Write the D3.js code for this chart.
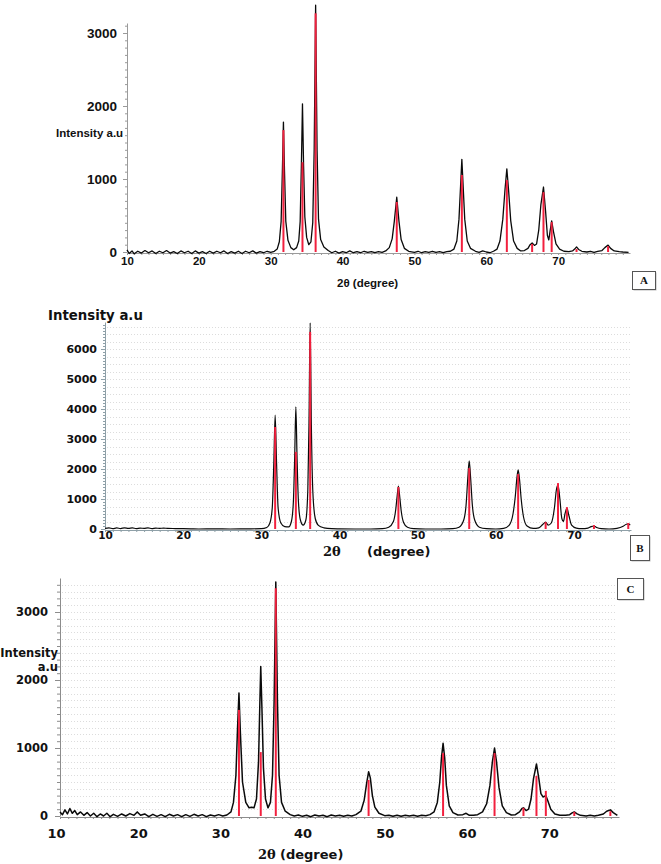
<!DOCTYPE html>
<html>
<head>
<meta charset="utf-8">
<script src="https://cdn.jsdelivr.net/npm/d3@7/dist/d3.min.js"></script>
<style>
  html, body { margin: 0; padding: 0; background: #ffffff; }
  svg { display: block; }
</style>
</head>
<body>
<svg id="chart" width="661" height="864"></svg>
<script>
// ---------------- DATA ----------------
// Reference (red stick) positions, 2θ in degrees
const twoTheta = [31.77, 34.42, 36.25, 47.54, 56.6, 62.86, 66.38, 67.96, 69.1, 72.56, 76.95];
// Reference stick intensities for each pattern
const refA = [1670, 1230, 3270, 685, 1055, 985, 110, 820, 410, 40, 80];
const refB = [3400, 2570, 6570, 1400, 2030, 1830, 230, 1530, 730, 130, 200];
const refC = [1560, 940, 3350, 530, 925, 925, 120, 590, 370, 60, 70];

const profileA = [
  [10,30],[10.3,-20],[10.7,15],[11,-25],[11.5,10],[12,-15],[12.5,20],[13,-10],[13.5,15],[14,-20],[14.5,10],
  [15,-10],[15.5,20],[16,-15],[16.5,5],[17,-20],[17.5,15],[18,-10],[18.5,10],[19,-20],[19.5,15],[20,-15],
  [20.5,5],[21,-20],[21.5,10],[22,-15],[22.5,10],[23,-10],[23.5,15],[24,-20],[24.5,5],[25,-15],[25.5,10],
  [26,-20],[26.5,10],[27,-10],[27.5,15],[28,-15],[28.5,5],[29,-10],[29.5,10],[30,-5],[30.5,10],
  [30.9,40],[31.2,140],[31.45,420],[31.62,1100],[31.77,1780],[31.92,1100],[32.1,420],[32.4,160],[32.8,60],
  [33.2,30],[33.6,60],[33.9,150],[34.1,420],[34.27,1200],[34.42,2030],[34.57,1200],[34.75,480],[35.0,200],
  [35.3,100],[35.6,140],[35.85,400],[36.05,1400],[36.25,3380],[36.45,1400],[36.65,450],[36.95,170],
  [37.4,70],[38,20],[38.5,-10],[39,10],[39.5,-15],[40,5],[40.5,-10],[41,15],[41.5,-10],[42,5],[42.5,-10],
  [43,10],[43.5,-5],[44,5],[44.5,-10],[45,5],[45.5,-5],[46,15],[46.5,60],[46.9,180],[47.2,420],[47.54,750],
  [47.85,420],[48.15,170],[48.6,50],[49.2,10],[50,-5],[50.5,10],[51,-10],[51.5,5],[52,-5],[52.5,10],[53,-5],
  [53.5,5],[54,-10],[54.5,5],[55,10],[55.5,40],[55.9,150],[56.2,450],[56.42,900],[56.6,1270],[56.78,900],
  [57.0,450],[57.35,150],[57.8,50],[58.5,10],[59,-5],[59.5,15],[60,0],[60.5,-10],[61,10],[61.5,40],
  [61.9,150],[62.3,450],[62.6,850],[62.86,1140],[63.1,850],[63.4,430],[63.8,150],[64.3,50],[64.8,15],
  [65.3,20],[65.8,50],[66.1,100],[66.38,125],[66.7,90],[67.0,110],[67.3,300],[67.6,650],[67.96,890],
  [68.25,560],[68.5,230],[68.7,165],[68.9,300],[69.1,425],[69.35,280],[69.7,110],[70.2,40],[70.8,10],
  [71.5,5],[72.0,15],[72.3,40],[72.56,70],[72.85,35],[73.3,10],[74,0],[74.5,10],[75,-5],[75.5,10],
  [76.1,20],[76.5,60],[76.95,95],[77.3,50],[77.8,15],[78.5,5],[79,0],[79.8,-5]
];
const profileB = [
  [10,20],[10.5,40],[11,10],[11.5,35],[12,15],[12.5,40],[13,20],[13.5,35],[14,15],[14.5,30],[15,20],
  [15.5,35],[16,15],[16.5,30],[17,20],[17.5,30],[18,20],[19,15],[20,10],[21,5],[22,0],[24,5],[26,0],
  [28,5],[30,10],[30.7,50],[31.1,200],[31.4,700],[31.6,2200],[31.77,3800],[31.95,2200],[32.15,700],
  [32.5,200],[33,80],[33.5,70],[33.85,250],[34.1,900],[34.27,2400],[34.42,4070],[34.57,2400],[34.75,900],
  [35.0,300],[35.35,130],[35.7,300],[35.95,1300],[36.1,3500],[36.25,6870],[36.4,3500],[36.6,1200],
  [36.9,350],[37.3,120],[38,40],[39,10],[40,5],[42,0],[44,0],[45.5,10],[46.3,60],[46.9,250],[47.2,650],
  [47.38,1100],[47.54,1430],[47.7,1100],[47.9,600],[48.2,220],[48.7,60],[49.5,10],[51,0],[53,0],
  [54.5,10],[55.3,60],[55.9,300],[56.2,800],[56.42,1700],[56.6,2270],[56.78,1700],[57.0,800],[57.3,300],
  [57.9,60],[58.8,10],[60,0],[61,20],[61.7,120],[62.2,500],[62.5,1100],[62.7,1700],[62.86,1970],
  [63.02,1700],[63.25,1000],[63.55,400],[64,100],[64.8,20],[65.5,40],[66.0,150],[66.38,230],[66.7,130],
  [67.1,200],[67.5,700],[67.75,1300],[67.96,1470],[68.2,1000],[68.45,350],[68.65,250],[68.85,500],
  [69.1,700],[69.35,450],[69.7,130],[70.3,30],[71,10],[71.8,30],[72.2,80],[72.56,100],[72.9,50],
  [73.5,10],[74.5,0],[75.5,20],[76.3,90],[76.7,160],[76.95,170],[77.2,130]
];
const profileC = [
  [10,60],[10.3,20],[10.6,90],[10.9,30],[11.2,110],[11.5,40],[11.8,80],[12.1,20],[12.5,60],[12.9,10],
  [13.3,50],[13.7,0],[14.1,40],[14.5,-10],[14.9,30],[15.3,0],[15.7,40],[16.1,-10],[16.5,25],[17,-5],
  [17.5,30],[18,0],[18.5,35],[19,10],[19.4,60],[19.8,10],[20.3,30],[20.8,-10],[21.3,25],[21.8,-5],
  [22.3,20],[22.8,-10],[23.3,25],[23.8,0],[24.3,20],[24.8,-10],[25.3,20],[25.8,-5],[26.3,25],[26.8,0],
  [27.3,20],[27.8,-10],[28.3,15],[28.8,0],[29.3,20],[29.8,0],[30.3,15],[30.8,60],[31.1,200],[31.4,600],
  [31.6,1300],[31.77,1810],[31.95,1200],[32.2,500],[32.6,200],[33.0,120],[33.3,130],[33.6,120],
  [33.9,250],[34.15,800],[34.3,1600],[34.42,2200],[34.56,1600],[34.75,700],[35.0,250],[35.3,120],
  [35.6,200],[35.85,600],[36.05,1700],[36.25,3440],[36.45,1700],[36.65,600],[36.95,200],[37.4,70],
  [38,20],[38.5,0],[39,15],[39.5,-5],[40,10],[40.5,-10],[41,15],[41.5,0],[42,10],[42.5,-10],[43,15],
  [43.5,0],[44,10],[44.5,-5],[45,10],[45.5,0],[46,20],[46.6,70],[47.0,230],[47.3,480],[47.54,650],
  [47.75,560],[48.0,300],[48.3,130],[48.8,40],[49.5,5],[50,10],[50.5,-5],[51,10],[51.5,-5],[52,10],
  [52.5,0],[53,10],[53.5,-5],[54,10],[54.5,5],[55,20],[55.5,60],[55.9,200],[56.2,500],[56.4,850],
  [56.6,1070],[56.8,850],[57.0,450],[57.35,150],[57.8,50],[58.4,15],[59,20],[59.4,40],[59.8,10],
  [60.3,10],[60.8,20],[61.4,60],[61.9,180],[62.3,450],[62.6,800],[62.86,1000],[63.1,800],[63.4,420],
  [63.8,150],[64.3,50],[64.9,15],[65.4,20],[65.9,60],[66.2,110],[66.38,120],[66.7,80],[67.0,100],
  [67.3,250],[67.6,550],[67.96,765],[68.25,550],[68.5,330],[68.75,280],[68.95,290],[69.1,300],
  [69.35,220],[69.7,100],[70.2,30],[70.8,10],[71.5,10],[72.0,20],[72.3,45],[72.56,60],[72.85,35],
  [73.3,10],[74,0],[74.5,10],[75,0],[75.5,10],[76.1,30],[76.5,70],[76.95,90],[77.3,50],[77.8,10]
];

const xTickLabels = [10, 20, 30, 40, 50, 60, 70];
const yTicksA = [0, 1000, 2000, 3000];
const yTicksB = [0, 1000, 2000, 3000, 4000, 5000, 6000];
const yTicksC = [0, 1000, 2000, 3000];
const panelNames = ["A", "B", "C"];

// ---------------- DRAWING ----------------
const svg = d3.select("#chart");
const SANS = "'Liberation Sans', Arial, sans-serif";
const WIDE = "'DejaVu Sans', Verdana, sans-serif";
const SERIF = "'DejaVu Serif', 'Liberation Serif', serif";

function drawPanel(cfg) {
  const g = svg.append("g");
  const x = d3.scaleLinear().domain(cfg.xDomain).range(cfg.xRange);
  const y = d3.scaleLinear().domain(cfg.yDomain).range(cfg.yRange);
  const yTop = y.invert(cfg.axisTop);
  const yAx = d3.scaleLinear().domain([0, yTop]).range([y(0), cfg.axisTop]);

  // faint dotted horizontal grid
  if (cfg.gridStep) {
    g.append("g").selectAll("line")
      .data(d3.range(cfg.gridStep, yTop, cfg.gridStep))
      .join("line")
      .attr("x1", x(cfg.xDomain[0]) + 2).attr("x2", cfg.gridRight)
      .attr("y1", d => Math.round(y(d)) + 0.5).attr("y2", d => Math.round(y(d)) + 0.5)
      .attr("stroke", "#dcdcdc").attr("stroke-width", 1)
      .attr("stroke-dasharray", "1,2");
  }

  // y axis: line + minor ticks
  const yMinor = g.append("g")
    .attr("transform", `translate(${x(cfg.xDomain[0])},0)`)
    .call(d3.axisLeft(yAx).tickValues(d3.range(0, yTop, 100)).tickSize(cfg.minorTick).tickFormat("").tickSizeOuter(0));
  yMinor.selectAll("path,line").attr("stroke", cfg.axisColor);
  const yMajor = g.append("g")
    .attr("transform", `translate(${x(cfg.xDomain[0])},0)`)
    .call(d3.axisLeft(y).tickValues(cfg.yTicks).tickFormat(d3.format("d"))
      .tickSize(cfg.majorTick).tickPadding(cfg.yPad).tickSizeOuter(0));
  yMajor.select(".domain").remove();
  yMajor.selectAll("line").attr("stroke", cfg.axisColor);
  yMajor.selectAll("text")
    .attr("font-family", cfg.yFont).attr("font-size", cfg.yFontSize)
    .attr("font-weight", "bold").attr("fill", "#111");

  // x axis: line + minor ticks
  const xBase = Math.round(y(0)) + 1;
  const xMinor = g.append("g")
    .attr("transform", `translate(0,${xBase})`)
    .call(d3.axisBottom(x).tickValues(d3.range(10, cfg.xDomain[1], 1)).tickSize(2).tickFormat("").tickSizeOuter(0));
  xMinor.selectAll("path,line").attr("stroke", cfg.axisColor);
  const xMajor = g.append("g")
    .attr("transform", `translate(0,${xBase})`)
    .call(d3.axisBottom(x).tickValues(xTickLabels).tickFormat(d3.format("d")).tickSize(0).tickPadding(cfg.xPad));
  xMajor.select(".domain").remove();
  xMajor.selectAll("text")
    .attr("dx", cfg.xLabelDx)
    .attr("font-family", cfg.xFont).attr("font-size", cfg.xFontSize)
    .attr("font-weight", "bold").attr("fill", "#111");

  // measured profile
  const line = d3.line()
    .x(d => x(d[0]))
    .y(d => y(d[1]))
    .curve(cfg.curve);
  g.append("path")
    .datum(cfg.profile)
    .attr("d", line)
    .attr("fill", "none")
    .attr("stroke", "#0a0a0a")
    .attr("stroke-width", cfg.lineWidth)
    .attr("stroke-linejoin", "round");

  // reference sticks
  g.append("g").selectAll("line")
    .data(twoTheta.map((t, i) => [t, cfg.ref[i]]))
    .join("line")
    .attr("x1", d => x(d[0])).attr("x2", d => x(d[0]))
    .attr("y1", y(0)).attr("y2", d => y(d[1]))
    .attr("stroke", "#f2203e").attr("stroke-width", 2);

  // y label
  cfg.yLabel.forEach(t => {
    g.append("text")
      .attr("x", t.x).attr("y", t.y)
      .attr("text-anchor", t.anchor || "start")
      .attr("font-family", t.font).attr("font-size", t.size)
      .attr("font-weight", "bold").attr("fill", "#111")
      .text(t.text);
  });
  // x label
  cfg.xLabel.forEach(t => {
    g.append("text")
      .attr("x", t.x).attr("y", t.y)
      .attr("font-family", t.font).attr("font-size", t.size)
      .attr("font-weight", "bold").attr("fill", "#111")
      .text(t.text);
  });

  // panel letter box
  const b = cfg.box;
  g.append("rect")
    .attr("x", b.x + 1.5).attr("y", b.y + 1.5).attr("width", b.w).attr("height", b.h)
    .attr("fill", "#bbb");
  g.append("rect")
    .attr("x", b.x + 0.5).attr("y", b.y + 0.5).attr("width", b.w).attr("height", b.h)
    .attr("fill", "#fff").attr("stroke", "#555").attr("stroke-width", 1);
  g.append("text")
    .attr("x", b.x + b.w / 2 + 0.5).attr("y", b.y + b.h / 2 + 4)
    .attr("text-anchor", "middle")
    .attr("font-family", "'Liberation Serif', 'DejaVu Serif', serif")
    .attr("font-size", 11).attr("font-weight", "bold").attr("fill", "#111")
    .text(cfg.name);
}

drawPanel({
  name: panelNames[0],
  profile: profileA, ref: refA, yTicks: yTicksA, curve: d3.curveLinear,
  xDomain: [10, 80], xRange: [127, 630],
  yDomain: [0, 3000], yRange: [252, 33], axisTop: 23,
  gridStep: null,
  axisColor: "#9a9a9a", minorTick: 2, majorTick: 4,
  yPad: 6, yFont: SANS, yFontSize: 13.5,
  xPad: 4, xFont: SANS, xFontSize: 11.5, xLabelDx: 0,
  lineWidth: 1.3,
  yLabel: [{ x: 56, y: 137, text: "Intensity a.u", font: SANS, size: 11.5 }],
  xLabel: [{ x: 337, y: 287, text: "2θ  (degree)", font: SANS, size: 11.5 }],
  box: { x: 632, y: 271, w: 23, h: 18 }
});

drawPanel({
  name: panelNames[1],
  profile: profileB, ref: refB, yTicks: yTicksB, curve: d3.curveMonotoneX,
  xDomain: [10, 77.3], xRange: [105, 631],
  yDomain: [0, 6000], yRange: [529, 349], axisTop: 322,
  gridStep: 250, gridRight: 631,
  axisColor: "#8fa0a8", minorTick: 2, majorTick: 4,
  yPad: 4, yFont: WIDE, yFontSize: 11,
  xPad: 2, xFont: WIDE, xFontSize: 10.5, xLabelDx: 0,
  lineWidth: 1.2,
  yLabel: [{ x: 48, y: 320, text: "Intensity a.u", font: WIDE, size: 13.3 }],
  xLabel: [
    { x: 323, y: 556, text: "2θ", font: SERIF, size: 13 },
    { x: 367, y: 556, text: "(degree)", font: WIDE, size: 13 }
  ],
  box: { x: 630, y: 535, w: 19, h: 25 }
});

drawPanel({
  name: panelNames[2],
  profile: profileC, ref: refC, yTicks: yTicksC, curve: d3.curveLinear,
  xDomain: [10, 78], xRange: [60, 619],
  yDomain: [0, 3000], yRange: [816, 612], axisTop: 578,
  gridStep: 100, gridRight: 617,
  axisColor: "#8c8c8c", minorTick: 3, majorTick: 5,
  yPad: 7, yFont: WIDE, yFontSize: 11.5,
  xPad: 12, xFont: WIDE, xFontSize: 13, xLabelDx: -4,
  lineWidth: 1.5,
  yLabel: [
    { x: 58, y: 657, text: "Intensity", font: WIDE, size: 11.5, anchor: "end" },
    { x: 58, y: 671, text: "a.u", font: WIDE, size: 11.5, anchor: "end" }
  ],
  xLabel: [
    { x: 258, y: 859, text: "2θ", font: SERIF, size: 13 },
    { x: 280, y: 859, text: "(degree)", font: WIDE, size: 13 }
  ],
  box: { x: 617, y: 578, w: 26, h: 21 }
});
</script>
</body>
</html>
